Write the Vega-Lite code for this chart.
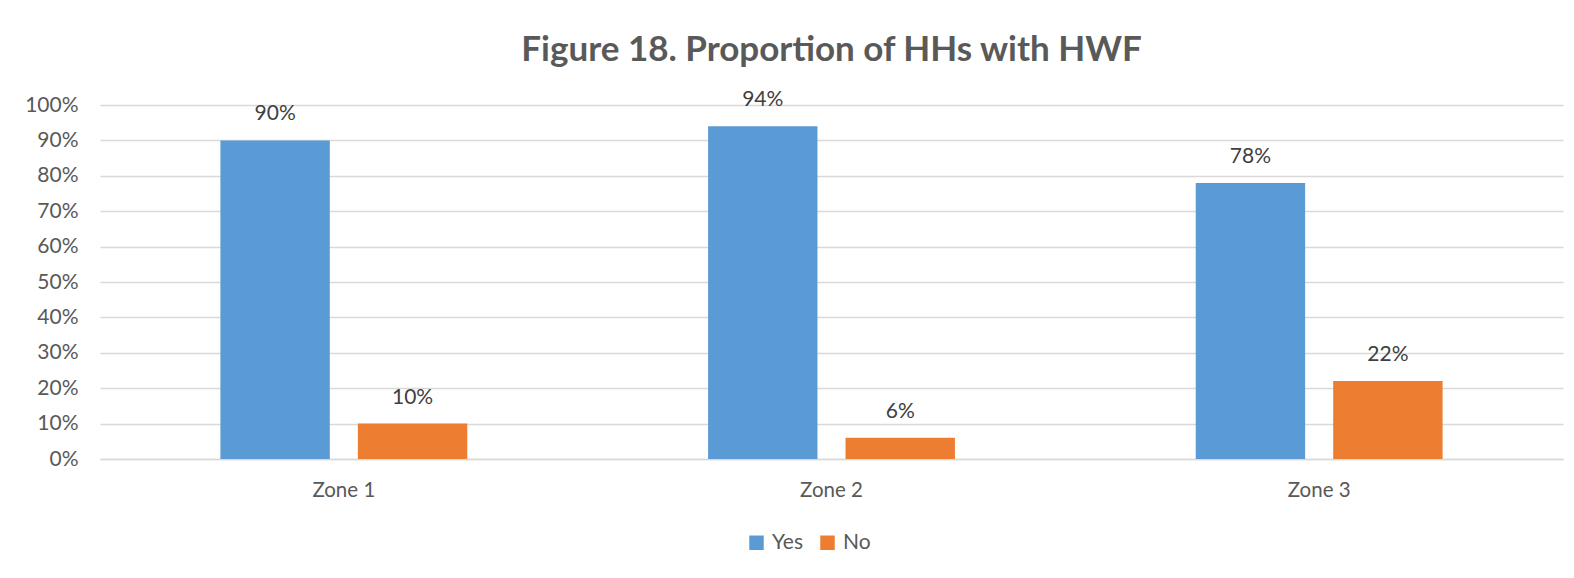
{
  "$schema": "https://vega.github.io/schema/vega-lite/v6.json",
  "width": 1463,
  "height": 354,
  "autosize": {"type": "pad"},
  "padding": {"left": 10, "top": 33, "right": 11, "bottom": 10},
  "background": "white",
  "title": {"text": "Figure 18. Proportion of HHs with HWF", "fontSize": 35, "fontWeight": "bold", "color": "#595959", "font": "Lato", "offset": 21, "anchor": "middle"},
  "data": {"values": [
    {"zone": "Zone 1", "answer": "Yes", "pct": 0.90},
    {"zone": "Zone 1", "answer": "No", "pct": 0.10},
    {"zone": "Zone 2", "answer": "Yes", "pct": 0.94},
    {"zone": "Zone 2", "answer": "No", "pct": 0.06},
    {"zone": "Zone 3", "answer": "Yes", "pct": 0.78},
    {"zone": "Zone 3", "answer": "No", "pct": 0.22}
  ]},
  "encoding": {
    "x": {"field": "zone", "type": "nominal", "scale": {"paddingInner": 0, "paddingOuter": 0},
      "axis": {"title": null, "labelAngle": 0, "labelFontSize": 20.5, "labelColor": "#595959", "labelFont": "Lato", "ticks": false, "domain": true, "domainColor": "#d9d9d9", "domainWidth": 1.5, "labelPadding": 21}},
    "xOffset": {"field": "answer", "type": "nominal", "sort": ["Yes", "No"], "scale": {"paddingInner": 0.204, "paddingOuter": 0.876}},
    "y": {"field": "pct", "type": "quantitative", "scale": {"domain": [0, 1]},
      "axis": {"title": null, "format": ".0%", "values": [0, 0.1, 0.2, 0.3, 0.4, 0.5, 0.6, 0.7, 0.8, 0.9, 1.0], "labelFontSize": 21, "labelColor": "#595959", "labelFont": "Lato", "ticks": false, "domain": false, "gridColor": "#d9d9d9", "gridWidth": 1.5, "labelPadding": 22, "minExtent": 90, "maxExtent": 90}}
  },
  "layer": [
    {"mark": {"type": "bar"},
     "encoding": {"color": {"field": "answer", "type": "nominal", "sort": ["Yes", "No"],
       "scale": {"domain": ["Yes", "No"], "range": ["#5B9BD5", "#ED7D31"]},
       "legend": {"title": null, "orient": "none", "legendX": 646, "legendY": 427, "direction": "horizontal", "symbolType": "square", "symbolSize": 210, "symbolStrokeWidth": 0, "labelFontSize": 21, "labelColor": "#595959", "labelFont": "Lato", "labelOffset": 5, "columnPadding": 14}}}},
    {"mark": {"type": "text", "baseline": "middle", "dy": -26, "fontSize": 21, "color": "#404040", "font": "Lato"},
     "encoding": {"text": {"field": "pct", "type": "quantitative", "format": ".0%"}}}
  ],
  "config": {"view": {"stroke": null}}
}
